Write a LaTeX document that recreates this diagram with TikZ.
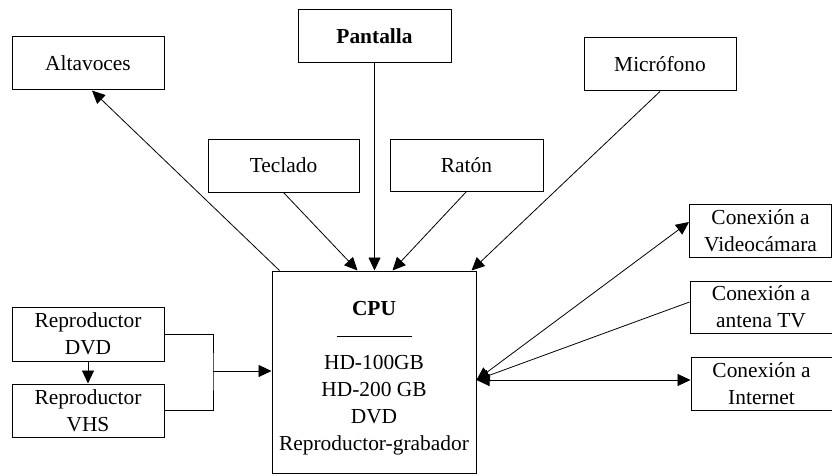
\documentclass[tikz,border=0pt]{standalone}
\usepackage{fontspec}
\setmainfont{Liberation Serif}
\usetikzlibrary{arrows.meta}
\begin{document}
\begin{tikzpicture}[x=1pt,y=1pt,
  box/.style={draw,line width=1pt,rectangle,inner sep=0pt,align=center,
    font=\fontsize{21.4}{27}\selectfont},
  txt/.style={inner sep=0pt,align=center,font=\fontsize{21.4}{27}\selectfont},
  conn/.style={line width=0.8pt},
  tip/.style={-{Triangle[length=13pt,width=12pt]}},
  dtip/.style={{Triangle[length=13pt,width=12pt]}-{Triangle[length=13pt,width=12pt]}}]
\useasboundingbox (0,0) rectangle (832,475);
\node[box,minimum width=152pt,minimum height=53pt] (alt) at (88,411.5) {Altavoces};
\node[box,minimum width=153pt,minimum height=53pt] (pan) at (374.5,438.5) {\textbf{Pantalla}};
\node[box,minimum width=151pt,minimum height=53pt] (tec) at (283.5,309.5) {Teclado};
\node[box,minimum width=153pt,minimum height=52pt] (rat) at (466.5,310) {Ratón};
\node[box,minimum width=152pt,minimum height=53pt] (mic) at (660,410.5) {Micrófono};
\node[box,minimum width=204pt,minimum height=202pt] (cpu) at (374,103) {};
\node[txt] (cputxt) at ([yshift=-6pt]cpu.center)
  {\textbf{CPU}\\[-5pt]\rule{75pt}{1.3pt}\\[5pt]HD-100GB\\HD-200 GB\\DVD\\Reproductor-grabador};
\node[box,minimum width=152pt,minimum height=54pt] (dvd) at (88,141) {Reproductor\\DVD};
\node[box,minimum width=152pt,minimum height=53pt] (vhs) at (88,64.5) {Reproductor\\VHS};
\node[box,minimum width=142pt,minimum height=53pt] (vid) at (760.5,244.5) {Conexión a\\Videocámara};
\node[box,minimum width=142pt,minimum height=52pt] (ant) at (761,168) {Conexión a\\antena TV};
\node[box,minimum width=141pt,minimum height=53pt] (int) at (761.5,91.5) {Conexión a\\Internet};
% top connectors
\draw[conn,tip] (tec.south) -- ([xshift=86pt]cpu.north west);
\draw[conn,tip] (pan.south) -- (pan.south |- cpu.north);
\draw[conn,tip] (rat.south) -- ([xshift=121pt]cpu.north west);
\draw[conn,tip] (mic.south) -- ([xshift=200pt]cpu.north west);
\draw[conn,tip] ([xshift=8pt]cpu.north west) -- ([xshift=4pt]alt.south);
% left connectors
\coordinate (j) at (213,104);
\draw[conn,tip] (dvd.south) -- (vhs.north);
\draw[conn] (dvd.east) -| (j) |- (vhs.east);
\draw[conn,tip] (j) -- (j -| cpu.west);
% right connectors
\coordinate (hub) at ([yshift=-8pt]cpu.east);
\draw[conn,dtip] (hub) -- ([yshift=8.5pt]vid.west);
\draw[conn,tip] ([yshift=5pt]ant.west) -- (hub);
\draw[conn,dtip] (hub) -- (hub -| int.west);
\end{tikzpicture}
\end{document}
